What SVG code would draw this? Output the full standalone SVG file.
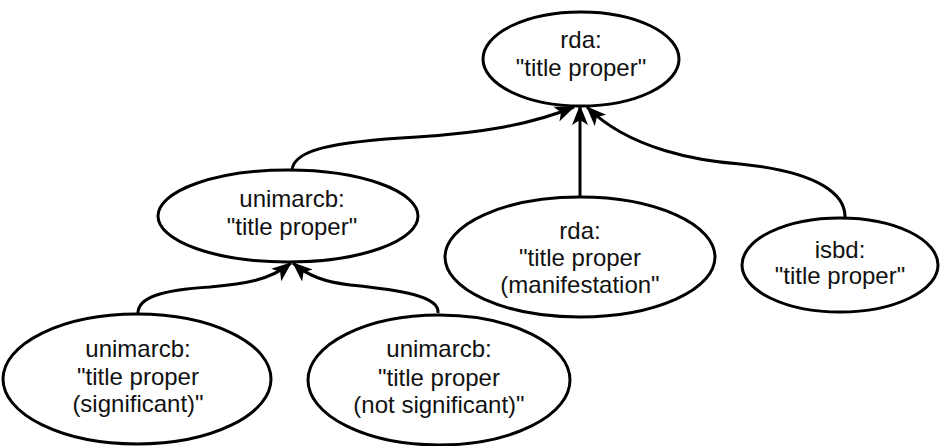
<svg xmlns="http://www.w3.org/2000/svg" width="940" height="446" viewBox="0 0 940 446">
<style>
.node ellipse{fill:#fff;stroke:#000;stroke-width:3}
.node text{font-family:"Liberation Sans",Arial,sans-serif;font-size:24px;fill:#111;text-anchor:middle}
.edge{fill:none;stroke:#000;stroke-width:3}
</style>
<defs>
<marker id="arr" markerUnits="userSpaceOnUse" markerWidth="24" markerHeight="20" refX="19" refY="8" orient="auto">
<path d="M0,0 L20,8 L0,16 L5,8 z" fill="#000"/>
</marker>
</defs>
<rect width="940" height="446" fill="#fff"/>
<g id="connectors">
<path class="edge" d="M292,170 C294,150 330,142 417,137 C480,133 530,125 574,107" marker-end="url(#arr)"/>
<path class="edge" d="M580,198 L580,106" marker-end="url(#arr)"/>
<path class="edge" d="M845,218 C846,195 820,172 740,164 C700,161 630,150 587,107" marker-end="url(#arr)"/>
<path class="edge" d="M138,313 C138,298 160,290 210,287 C245,284 270,280 291,263" marker-end="url(#arr)"/>
<path class="edge" d="M438,313 C440,296 400,290 350,285 C325,282 308,276 293,263" marker-end="url(#arr)"/>
</g>
<g id="n_rda_title" class="node">
<ellipse cx="581" cy="59" rx="98" ry="47"/>
<text x="581" y="48">rda:</text>
<text x="581" y="76">"title proper"</text>
</g>
<g id="n_unimarcb_title" class="node">
<ellipse cx="288" cy="216" rx="130" ry="46"/>
<text x="292" y="207">unimarcb:</text>
<text x="292" y="235">"title proper"</text>
</g>
<g id="n_rda_manif" class="node">
<ellipse cx="580" cy="257" rx="135" ry="60"/>
<text x="580" y="239">rda:</text>
<text x="580" y="266">"title proper</text>
<text x="580" y="293">(manifestation"</text>
</g>
<g id="n_isbd" class="node">
<ellipse cx="840" cy="265" rx="98" ry="47"/>
<text x="840" y="258">isbd:</text>
<text x="840" y="284">"title proper"</text>
</g>
<g id="n_sig" class="node">
<ellipse cx="137" cy="379" rx="134" ry="65"/>
<text x="138" y="357">unimarcb:</text>
<text x="138" y="385">"title proper</text>
<text x="138" y="412">(significant)"</text>
</g>
<g id="n_notsig" class="node">
<ellipse cx="439" cy="380" rx="131" ry="65"/>
<text x="439" y="357">unimarcb:</text>
<text x="439" y="386">"title proper</text>
<text x="439" y="413">(not significant)"</text>
</g>
</svg>
